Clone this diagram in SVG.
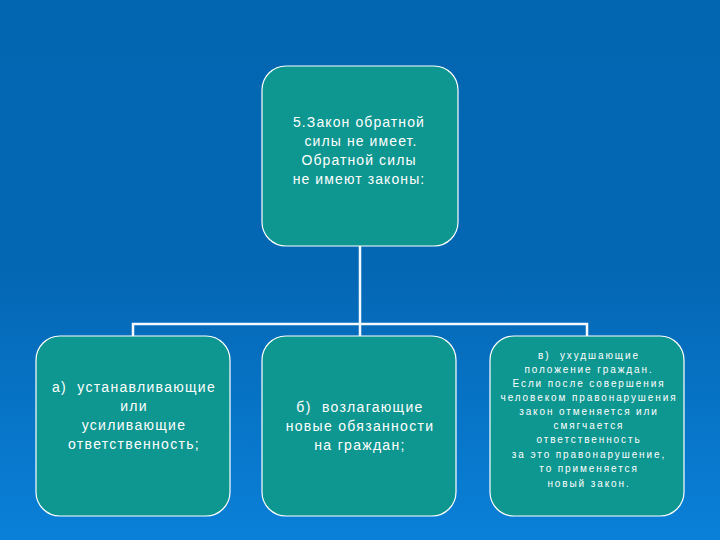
<svg xmlns="http://www.w3.org/2000/svg" width="720" height="540" viewBox="0 0 720 540">
<defs>
<linearGradient id="bg" x1="0" y1="0" x2="0" y2="1">
<stop offset="0" stop-color="#0266b1"/>
<stop offset="0.5" stop-color="#0467b4"/>
<stop offset="1" stop-color="#0a80d8"/>
</linearGradient>
</defs>
<style>
.box{fill:#0e9690;stroke:#ffffff;stroke-width:1.2}
.t{font-family:"Liberation Sans",Arial,sans-serif;fill:#ffffff;text-anchor:middle}
.t14{font-size:14px;letter-spacing:1.1px}
.tb{font-size:14px;letter-spacing:1.3px}
.t10{font-size:10px;letter-spacing:1.9px}
.ln{stroke:#f4f8ff;stroke-width:2.5;fill:none}
</style>
<rect width="720" height="540" fill="url(#bg)"/>
<g id="connectors">
<path class="ln" d="M360 246 V336"/>
<path class="ln" d="M133 336 V324 H587 V336"/>
</g>
<g id="node-top">
<rect class="box" x="262" y="66" width="196" height="180" rx="24"/>
<text class="t t14" x="359" y="127">5.Закон обратной</text>
<text class="t t14" x="361" y="146">силы не имеет.</text>
<text class="t t14" x="359" y="165">Обратной силы</text>
<text class="t t14" x="359" y="184">не имеют законы:</text>
</g>
<g id="node-a">
<rect class="box" x="36" y="336" width="194" height="180" rx="24"/>
<text class="t tb" x="134" y="392" xml:space="preserve">а)  устанавливающие</text>
<text class="t tb" x="134" y="411">или</text>
<text class="t tb" x="134" y="430">усиливающие</text>
<text class="t tb" x="134" y="449">ответственность;</text>
</g>
<g id="node-b">
<rect class="box" x="262" y="336" width="194" height="180" rx="24"/>
<text class="t tb" x="360" y="412" xml:space="preserve">б)  возлагающие</text>
<text class="t tb" x="360" y="431">новые обязанности</text>
<text class="t tb" x="360" y="450">на граждан;</text>
</g>
<g id="node-v">
<rect class="box" x="490" y="336" width="194" height="180" rx="24"/>
<text class="t t10" x="589" y="359" xml:space="preserve">в)  ухудшающие</text>
<text class="t t10" x="589" y="373">положение граждан.</text>
<text class="t t10" x="589" y="387">Если после совершения</text>
<text class="t t10" x="589" y="401">человеком правонарушения</text>
<text class="t t10" x="589" y="415">закон отменяется или</text>
<text class="t t10" x="589" y="429">смягчается</text>
<text class="t t10" x="589" y="443">ответственность</text>
<text class="t t10" x="589" y="458">за это правонарушение,</text>
<text class="t t10" x="589" y="472">то применяется</text>
<text class="t t10" x="589" y="487">новый закон.</text>
</g>
</svg>
